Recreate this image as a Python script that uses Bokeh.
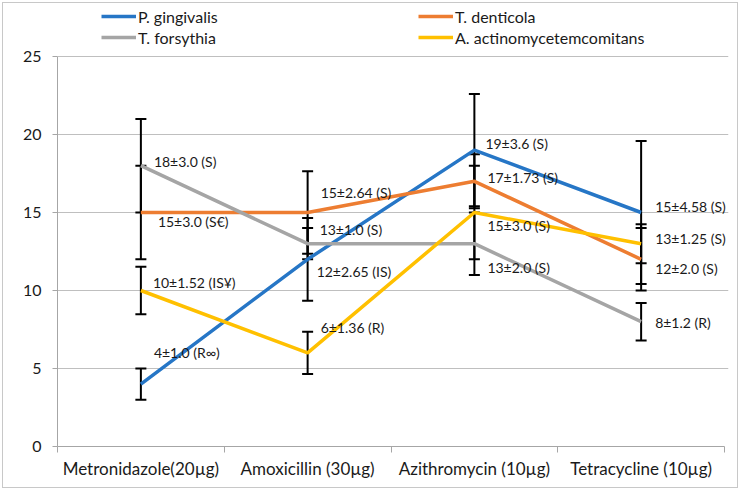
from bokeh.plotting import figure
from bokeh.layouts import column
from bokeh.models import (ColumnDataSource, Whisker, TeeHead, FixedTicker, Legend,
                          LegendItem, Range1d)
from bokeh.core.properties import value
from bokeh.embed import file_html
from bokeh.resources import INLINE

# ---------------- data ----------------
categories = ["Metronidazole(20µg)", "Amoxicillin (30µg)", "Azithromycin (10µg)", "Tetracycline (10µg)"]
series_names = ["P. gingivalis", "T. denticola", "T. forsythia", "A. actinomycetemcomitans"]

p_gingivalis = [4, 12, 19, 15]
p_gingivalis_err = [1.0, 2.65, 3.6, 4.58]
p_gingivalis_labels = ["4±1.0 (R∞)", "12±2.65 (IS)", "19±3.6 (S)", "15±4.58 (S)"]

t_denticola = [15, 15, 17, 12]
t_denticola_err = [3.0, 2.64, 1.73, 2.0]
t_denticola_labels = ["15±3.0 (S€)", "15±2.64 (S)", "17±1.73 (S)", "12±2.0 (S)"]

t_forsythia = [18, 13, 13, 8]
t_forsythia_err = [3.0, 1.0, 2.0, 1.2]
t_forsythia_labels = ["18±3.0 (S)", "13±1.0 (S)", "13±2.0 (S)", "8±1.2 (R)"]

a_actino = [10, 6, 15, 13]
a_actino_err = [1.52, 1.36, 3.0, 1.25]
a_actino_labels = ["10±1.52 (IS¥)", "6±1.36 (R)", "15±3.0 (S)", "13±1.25 (S)"]

y_ticks = [0, 5, 10, 15, 20, 25]
y_max = 25

# ---------------- styling (positions / colours) ----------------
colors = ["#2676C6", "#ED7D31", "#A5A5A5", "#FFC000"]
label_dx = [[13, 9, 11, 14], [17, 13, 13, 14], [13, 12, 13, 14], [12, 13, 13, 14]]
label_dy = [[-32, 12, -7, -6], [9, -20, -4, 9], [-4, -14, 24, 1], [-8, -25, 13, -5]]

FONT = "Lato"
series_vals = [p_gingivalis, t_denticola, t_forsythia, a_actino]
series_errs = [p_gingivalis_err, t_denticola_err, t_forsythia_err, a_actino_err]
series_lbls = [p_gingivalis_labels, t_denticola_labels, t_forsythia_labels, a_actino_labels]

xpos = [i + 0.5 for i in range(len(categories))]
n_cat = len(categories)

# figure sits 3px inside a thin chart border; frame reaches the figure top,
# value 25 sits 53px below it (443px for the frame)
y_top = y_max * 443 / 390
x_end = n_cat * 671 / 667   # a few px of room on the right for the last labels

p = figure(width=734, height=484, x_range=Range1d(0, x_end), y_range=Range1d(0, y_top),
           output_backend="svg", toolbar_location=None,
           min_border_left=54, min_border_right=9, min_border_top=0, min_border_bottom=41)
p.outline_line_color = None
p.background_fill_color = "white"
p.border_fill_color = "white"

# axes
p.xaxis.ticker = FixedTicker(ticks=xpos, minor_ticks=list(range(n_cat + 1)))
p.xaxis.bounds = (0, n_cat)
p.xaxis.major_label_overrides = {x: c for x, c in zip(xpos, categories)}
p.xaxis.major_tick_line_color = None
p.xaxis.major_tick_out = 0
p.xaxis.major_tick_in = 0
p.xaxis.minor_tick_out = 6
p.xaxis.minor_tick_in = 0
p.xaxis.minor_tick_line_color = "#A6A6A6"
p.xaxis.axis_line_color = "#A6A6A6"
p.xaxis.major_label_standoff = 5
p.xaxis.major_label_text_font = FONT
p.xaxis.major_label_text_font_size = "17px"
p.xaxis.major_label_text_color = "#1a1a1a"

p.yaxis.ticker = FixedTicker(ticks=y_ticks)
p.yaxis.bounds = (0, y_max)
p.yaxis.minor_tick_line_color = None
p.yaxis.major_tick_out = 5
p.yaxis.major_tick_in = 0
p.yaxis.major_tick_line_color = "#A6A6A6"
p.yaxis.axis_line_color = "#A6A6A6"
p.yaxis.major_label_standoff = 11
p.yaxis.major_label_text_font = FONT
p.yaxis.major_label_text_font_size = "16px"
p.yaxis.major_label_text_color = "#1a1a1a"

p.xgrid.grid_line_color = None
p.ygrid.grid_line_color = "#BFBFBF"
p.ygrid.grid_line_width = 1

renderers = []
for vals, errs, lbls, col, dx, dy in zip(series_vals, series_errs, series_lbls, colors, label_dx, label_dy):
    src = ColumnDataSource(dict(
        x=xpos, y=vals,
        upper=[v + e for v, e in zip(vals, errs)],
        lower=[v - e for v, e in zip(vals, errs)],
        text=lbls, dx=dx, dy=dy))
    r = p.line("x", "y", source=src, line_color=col, line_width=3.5)
    renderers.append(r)
    w = Whisker(source=src, base="x", upper="upper", lower="lower",
                line_color="black", line_width=2,
                upper_head=TeeHead(size=11, line_color="black", line_width=2),
                lower_head=TeeHead(size=11, line_color="black", line_width=2))
    p.add_layout(w)
    p.text("x", "y", text="text", source=src, x_offset="dx", y_offset="dy",
           text_font=value(FONT), text_font_size="14px", text_color="#1a1a1a",
           text_align="left", text_baseline="middle")

legend = Legend(items=[LegendItem(label=series_names[i], renderers=[renderers[i]]) for i in range(4)],
                orientation="horizontal", ncols=2, location=(44, 399))
legend.padding = 0
legend.margin = 0
legend.spacing = 1
legend.border_line_color = None
legend.background_fill_alpha = 0
legend.glyph_width = 35
legend.glyph_height = 20
legend.label_height = 20
legend.label_width = 279
legend.label_standoff = 2
legend.label_text_font = FONT
legend.label_text_font_size = "16px"
legend.label_text_color = "#1a1a1a"
p.add_layout(legend)

page = column(p, margin=(2, 2, 2, 2), styles={"border": "1px solid #C8C8C8"})

open("out.html", "w").write(file_html(page, INLINE))
